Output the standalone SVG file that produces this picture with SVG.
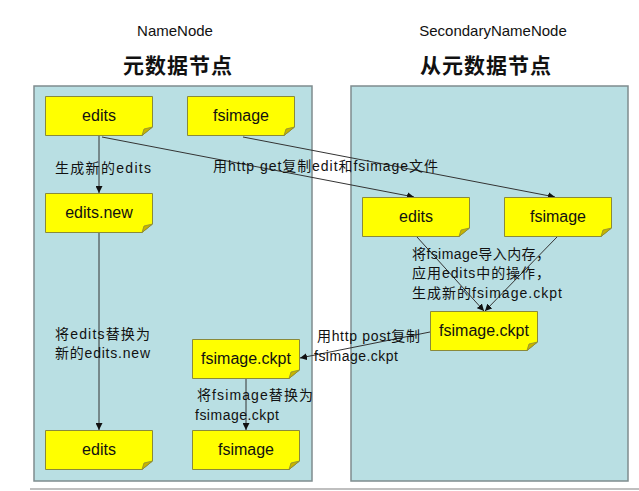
<svg xmlns="http://www.w3.org/2000/svg" width="639" height="491" viewBox="0 0 639 491">
<defs>
<style>
.panel{fill:#b9dfe3;stroke:#7f8c8e;stroke-width:1.5}
.box{fill:#ffff00;stroke:#8a8a3a;stroke-width:1}
.fold{fill:#c8b400;stroke:#8a8a3a;stroke-width:0.8}
.nt{font-family:"Liberation Sans",Arial,sans-serif;font-size:16px;fill:#111;text-anchor:middle}
.lb{font-family:"Liberation Sans","Noto Sans CJK SC",sans-serif;font-size:14px;fill:#111}
.hd{font-family:"Liberation Sans",Arial,sans-serif;font-size:15px;fill:#111;text-anchor:middle}
.cn{font-family:"Noto Sans CJK SC",sans-serif;font-size:21px;font-weight:bold;fill:#111;text-anchor:middle;letter-spacing:1px}
.ln{stroke:#333;stroke-width:1;fill:none;marker-end:url(#ah)}
</style>
<marker id="ah" viewBox="0 0 10 10" refX="10" refY="5" markerWidth="7" markerHeight="7" orient="auto" markerUnits="userSpaceOnUse">
<path d="M0,0 L10,5 L0,10 z" fill="#111"/>
</marker>
<symbol id="note" viewBox="0 0 108 40" width="108" height="40">
<path class="box" d="M0.5,0.5 H107.5 V31 L97,39.5 H0.5 Z"/>
<path class="fold" d="M107.5,31 L97,39.5 L99,33 Z"/>
</symbol>
</defs>
<rect width="639" height="491" fill="#ffffff"/>
<line x1="30" y1="489" x2="639" y2="489" stroke="#aaaaaa" stroke-width="1.5"/>
<g id="titles">
<text class="hd" x="175" y="36">NameNode</text>
<text class="cn" x="178" y="73">元数据节点</text>
<text class="hd" x="493" y="36">SecondaryNameNode</text>
<text class="cn" x="486" y="73">从元数据节点</text>
</g>
<g id="panels">
<rect id="namenode-panel" class="panel" x="34" y="86" width="278" height="395"/>
<rect id="secondary-panel" class="panel" x="351" y="86" width="277" height="395"/>
</g>
<g id="connectors">
<line class="ln" x1="99" y1="136" x2="99" y2="193"/>
<line class="ln" x1="99" y1="232" x2="99" y2="430"/>
<line class="ln" x1="102" y1="137" x2="414" y2="197"/>
<line class="ln" x1="243" y1="137" x2="555" y2="197"/>
<line class="ln" x1="417" y1="237" x2="484" y2="311"/>
<line class="ln" x1="557" y1="237" x2="485" y2="311"/>
<line class="ln" x1="430" y1="332" x2="300" y2="358"/>
<line class="ln" x1="246" y1="379" x2="246" y2="430"/>
</g>
<g id="labels">
<text class="lb" x="55" y="173" textLength="96" lengthAdjust="spacing">生成新的edits</text>
<text class="lb" x="213" y="171" textLength="225" lengthAdjust="spacing">用http get复制edit和fsimage文件</text>
<text class="lb" x="412" y="259" textLength="138" lengthAdjust="spacing">将fsimage导入内存，</text>
<text class="lb" x="412" y="278" textLength="138" lengthAdjust="spacing">应用edits中的操作，</text>
<text class="lb" x="412" y="298" textLength="150" lengthAdjust="spacing">生成新的fsimage.ckpt</text>
<text class="lb" x="317" y="341" textLength="103" lengthAdjust="spacing">用http post复制</text>
<text class="lb" x="314" y="361" textLength="84" lengthAdjust="spacing">fsimage.ckpt</text>
<text class="lb" x="55" y="339" textLength="95" lengthAdjust="spacing">将edits替换为</text>
<text class="lb" x="55" y="358" textLength="95" lengthAdjust="spacing">新的edits.new</text>
<text class="lb" x="197" y="400" textLength="116" lengthAdjust="spacing">将fsimage替换为</text>
<text class="lb" x="195" y="420" textLength="84" lengthAdjust="spacing">fsimage.ckpt</text>
</g>
<g id="nn-edits"><use href="#note" x="45" y="96"/><text class="nt" x="99" y="121">edits</text></g>
<g id="nn-fsimage"><use href="#note" x="187" y="96"/><text class="nt" x="241" y="121">fsimage</text></g>
<g id="nn-edits-new"><use href="#note" x="45" y="193"/><text class="nt" x="99" y="218">edits.new</text></g>
<g id="snn-edits"><use href="#note" x="362" y="197"/><text class="nt" x="416" y="222">edits</text></g>
<g id="snn-fsimage"><use href="#note" x="504" y="197"/><text class="nt" x="558" y="222">fsimage</text></g>
<g id="snn-ckpt"><use href="#note" x="430" y="311"/><text class="nt" x="484" y="336">fsimage.ckpt</text></g>
<g id="nn-ckpt"><use href="#note" x="192" y="339"/><text class="nt" x="246" y="364">fsimage.ckpt</text></g>
<g id="nn-edits-final"><use href="#note" x="45" y="430"/><text class="nt" x="99" y="455">edits</text></g>
<g id="nn-fsimage-final"><use href="#note" x="192" y="430"/><text class="nt" x="246" y="455">fsimage</text></g>
</svg>
